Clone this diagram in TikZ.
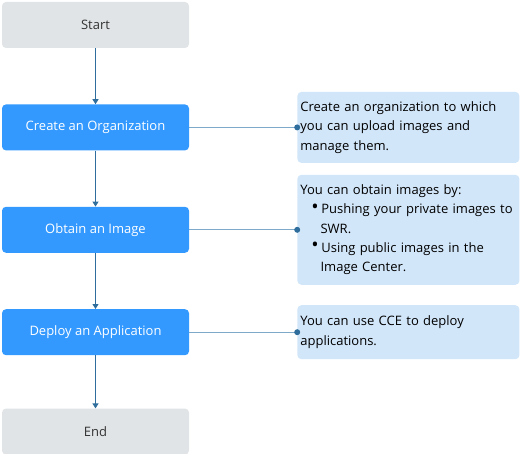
\documentclass[tikz,border=0pt]{standalone}
\usepackage{fontspec}
\setmainfont{Open Sans}
\usetikzlibrary{positioning,arrows.meta}
\definecolor{stepgrey}{HTML}{E1E4E6}
\definecolor{stepblue}{HTML}{3399FF}
\definecolor{noteblue}{HTML}{D2E6F9}
\definecolor{flowline}{HTML}{2F6E9C}
\definecolor{linkline}{HTML}{7FA9C9}
\tikzset{>={Triangle[width=6pt,length=5pt]}}
\newcommand{\notebullet}{\hspace*{0.85em}\raisebox{0.05em}{\scalebox{1.5}{\textbullet}}\hspace{0.2em}}

\begin{document}
\begin{tikzpicture}[
        font=\fontsize{13}{19.3}\selectfont,
        stepbox/.style={
            rounded corners=4pt,
            minimum height=46pt,
            minimum width=187pt,
            align=center,
          },
        endbox/.style={
            stepbox,
            fill=stepgrey,
            text=black!80,
          },
        actbox/.style={
            stepbox,
            fill=stepblue,
            text=white,
          },
        notebox/.style={
            rounded corners=4pt,
            fill=noteblue,
            minimum width=222pt,
            text width=216pt,
            inner xsep=3pt,
            align=left,
          },
        flow/.style={
            ->,
            draw=flowline,
            fill=flowline,
            line width=1pt,
          },
        link/.style={
            draw=linkline,
            line width=1.2pt,
          },
      ]
      \useasboundingbox (0,0) rectangle (521pt,-454pt);
      \node [
        endbox
      ] (start) at (95.5pt,-25pt) {Start};
      \node [
        actbox,
        below=56pt of start
      ] (org) {Create an Organization};
      \node [
        actbox,
        below=56pt of org
      ] (image) {Obtain an Image};
      \node [
        actbox,
        below=56pt of image
      ] (deploy) {Deploy an Application};
      \node [
        endbox,
        below=53pt of deploy
      ] (end) {End};

      \node [
        notebox,
        minimum height=71pt,
        right=108pt of org
      ] (orgnote) {Create an organization to which\\ you can upload images and\\ manage them.};
      \node [
        notebox,
        minimum height=110pt,
        right=108pt of image
      ] (imagenote) {You can obtain images by:\\
        \notebullet Pushing your private images to\\
        \hspace*{1.55em}SWR.\\
        \notebullet Using public images in the\\
        \hspace*{1.55em}Image Center.};
      \node [
        notebox,
        minimum height=54pt,
        right=108pt of deploy
      ] (deploynote) {You can use CCE to deploy\\ applications.};

      \draw[flow] (start.south) -- (org.north);
      \draw[flow] (org.south) -- (image.north);
      \draw[flow] (image.south) -- (deploy.north);
      \draw[flow] (deploy.south) -- (end.north);
      \draw[link] (org.east) -- (orgnote.west);
      \draw[link] (image.east) -- (imagenote.west);
      \draw[link] (deploy.east) -- (deploynote.west);
      \fill[flowline] (orgnote.west) circle (3pt);
      \fill[flowline] (imagenote.west) circle (3pt);
      \fill[flowline] (deploynote.west) circle (3pt);
    \end{tikzpicture}
\end{document}
